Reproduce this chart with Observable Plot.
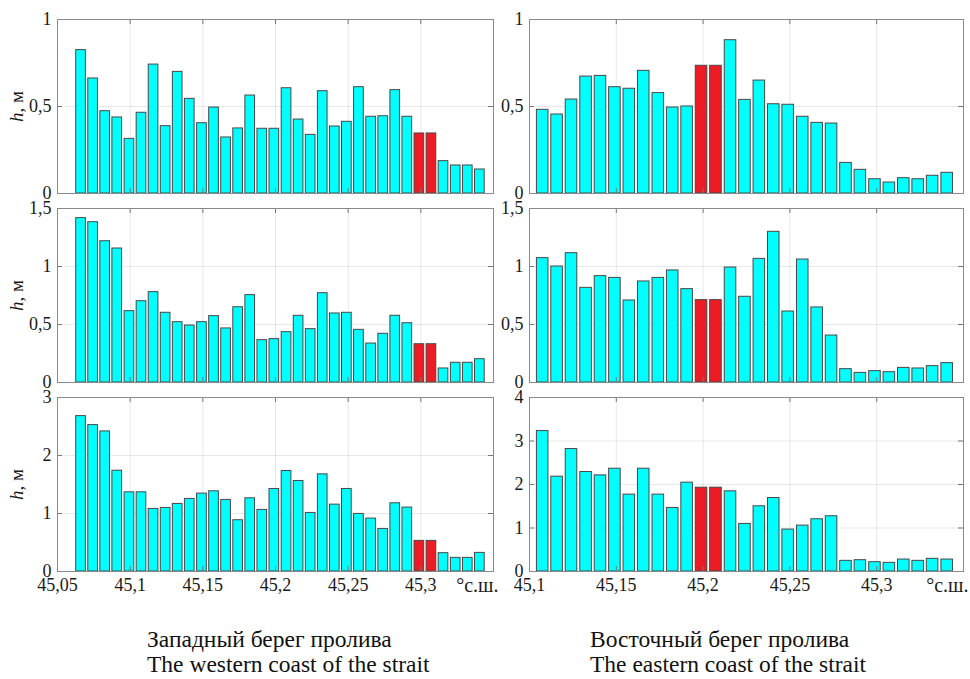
<!DOCTYPE html>
<html>
<head>
<meta charset="utf-8">
<script src="https://cdn.jsdelivr.net/npm/d3@7"></script>
<script src="https://cdn.jsdelivr.net/npm/@observablehq/plot@0.6"></script>
<style>
  body { margin: 0; background: #fff; }
  #wrap { position: relative; width: 970px; height: 679px; overflow: hidden; font-family: "Liberation Serif", "Times New Roman", serif; }
  #wrap svg { position: absolute; overflow: visible; background: transparent; }
  .cap { position: absolute; font-family: "Liberation Serif", "Times New Roman", serif; font-size: 23.5px; line-height: 25px; color: #111; white-space: nowrap; }
</style>
</head>
<body>
<div id="wrap"></div>
<script>
// ---- data ----
// latitudes of the profile points, western coast (°N)
const latWest = [45.0662, 45.0745, 45.0828, 45.0911, 45.0995, 45.1078, 45.1161, 45.1244, 45.1327, 45.1410,
  45.1494, 45.1577, 45.1660, 45.1743, 45.1826, 45.1909, 45.1992, 45.2076, 45.2159, 45.2242,
  45.2325, 45.2408, 45.2491, 45.2574, 45.2658, 45.2741, 45.2824, 45.2907, 45.2990, 45.3073,
  45.3156, 45.3240, 45.3323, 45.3406];
// latitudes of the profile points, eastern coast (°N)
const latEast = [45.1076, 45.1159, 45.1242, 45.1326, 45.1409, 45.1492, 45.1575, 45.1658, 45.1742, 45.1825,
  45.1908, 45.1991, 45.2074, 45.2158, 45.2241, 45.2324, 45.2407, 45.2490, 45.2574, 45.2657,
  45.2740, 45.2823, 45.2906, 45.2990, 45.3073, 45.3156, 45.3239, 45.3322, 45.3406];
const latStep = 0.00832;

// wave heights h, m — western coast (rows: top, middle, bottom)
const hWest1 = [0.824, 0.661, 0.473, 0.437, 0.314, 0.464, 0.741, 0.387, 0.699, 0.544,
  0.404, 0.494, 0.322, 0.374, 0.563, 0.372, 0.372, 0.605, 0.425, 0.337,
  0.588, 0.385, 0.412, 0.611, 0.441, 0.444, 0.594, 0.441, 0.345, 0.345,
  0.186, 0.161, 0.161, 0.138];
const hWest2 = [1.417, 1.382, 1.218, 1.155, 0.615, 0.701, 0.779, 0.601, 0.520, 0.491,
  0.520, 0.572, 0.466, 0.649, 0.753, 0.365, 0.374, 0.434, 0.575, 0.460,
  0.770, 0.595, 0.601, 0.454, 0.336, 0.420, 0.575, 0.511, 0.330, 0.330,
  0.121, 0.170, 0.170, 0.201];
const hWest3 = [2.679, 2.524, 2.415, 1.738, 1.365, 1.365, 1.079, 1.096, 1.165, 1.251,
  1.343, 1.383, 1.234, 0.884, 1.262, 1.062, 1.423, 1.733, 1.561, 1.010,
  1.675, 1.153, 1.423, 0.993, 0.912, 0.734, 1.176, 1.102, 0.528, 0.528,
  0.316, 0.235, 0.235, 0.321];
// wave heights h, m — eastern coast
const hEast1 = [0.481, 0.454, 0.540, 0.672, 0.676, 0.611, 0.602, 0.705, 0.577, 0.494,
  0.500, 0.734, 0.734, 0.881, 0.538, 0.649, 0.513, 0.510, 0.441, 0.406,
  0.402, 0.176, 0.136, 0.082, 0.063, 0.088, 0.082, 0.102, 0.119];
const hEast2 = [1.072, 1.000, 1.115, 0.816, 0.917, 0.902, 0.707, 0.871, 0.902, 0.966,
  0.805, 0.710, 0.710, 0.991, 0.739, 1.066, 1.299, 0.612, 1.060, 0.647,
  0.405, 0.115, 0.083, 0.098, 0.089, 0.126, 0.121, 0.141, 0.167];
const hEast3 = [3.228, 2.180, 2.815, 2.287, 2.210, 2.363, 1.767, 2.363, 1.767, 1.461,
  2.042, 1.927, 1.927, 1.843, 1.094, 1.499, 1.690, 0.964, 1.055, 1.201,
  1.270, 0.245, 0.260, 0.214, 0.199, 0.275, 0.245, 0.291, 0.275];

// highlighted (red) points
const redWest = [45.2990, 45.3073];
const redEast = [45.1991, 45.2074];

// axes
const xDomainWest = [45.05, 45.35];
const xDomainEast = [45.1, 45.35];
const xTicksWest = [45.05, 45.1, 45.15, 45.2, 45.25, 45.3];
const xTicksEast = [45.1, 45.15, 45.2, 45.25, 45.3];
const yTicks1 = [0, 0.5, 1];
const yTicks2 = [0, 0.5, 1, 1.5];
const yTicks3West = [0, 1, 2, 3];
const yTicks3East = [0, 1, 2, 3, 4];
const yLabel = "h, м";
const xUnit = "°с.ш.";
const captionWest = ["Западный берег пролива", "The western coast of the strait"];
const captionEast = ["Восточный берег пролива", "The eastern coast of the strait"];

// ---- drawing ----
const fmt = d => String(d).replace(".", ",");
const FONT = '"Liberation Serif", "Times New Roman", serif';
const wrap = document.getElementById("wrap");
const FRAME_H = 174;

function panel({lat, h, red, xDomain, xTicks, yDomain, yTicks, showX, showLabel, left, width, marginLeft, marginRight, frameTop, marginBottom}) {
  const marginTop = 12;
  const height = FRAME_H + marginTop + marginBottom;
  const frameW = width - marginLeft - marginRight;
  const rows = lat.map((x, i) => ({lat: x, h: h[i], red: red.includes(x)}));
  const rectOpts = {
    x1: d => d.lat - latStep * 0.4,
    x2: d => d.lat + latStep * 0.4,
    y1: 0,
    y2: "h",
    stroke: "#474747",
    strokeWidth: 1
  };
  const gridTicksX = xTicks.filter(t => t > xDomain[0] + 1e-9);
  const gridTicksY = yTicks.filter(t => t > yDomain[0] && t < yDomain[1]);
  const marks = [
    Plot.gridX(gridTicksX, {stroke: "#000", strokeOpacity: 0.09, strokeWidth: 1}),
    Plot.gridY(gridTicksY, {stroke: "#000", strokeOpacity: 0.09, strokeWidth: 1}),
    Plot.rectY(rows.filter(d => !d.red), {...rectOpts, fill: "#00ffff"}),
    Plot.rectY(rows.filter(d => d.red), {...rectOpts, fill: "#ed1c24"}),
    // inward tick marks on all four sides
    Plot.tickX(gridTicksX, {x: d => d, insetBottom: FRAME_H - 5, stroke: "#777"}),
    Plot.tickX(gridTicksX, {x: d => d, insetTop: FRAME_H - 5, stroke: "#777"}),
    Plot.tickY(gridTicksY, {y: d => d, insetRight: frameW - 5, stroke: "#777"}),
    Plot.tickY(gridTicksY, {y: d => d, insetLeft: frameW - 5, stroke: "#777"}),
    Plot.frame({stroke: "#8a8a8a", strokeWidth: 1}),
    Plot.axisY(yTicks, {
      anchor: "left", tickSize: 0, tickPadding: 6, tickFormat: fmt,
      fontSize: 18, fill: "#1a1a1a",
      label: showLabel ? yLabel : null, labelAnchor: "center", labelOffset: 48, labelArrow: "none"
    })
  ];
  if (showX) {
    marks.push(Plot.axisX(xTicks, {anchor: "bottom", tickSize: 0, tickPadding: 7, tickFormat: fmt, fontSize: 18, fill: "#1a1a1a", label: null}));
    marks.push(Plot.text([xUnit], {text: d => d, frameAnchor: "bottom-right", textAnchor: "end", lineAnchor: "top", dx: 5, dy: 6, fontSize: 20, fill: "#1a1a1a"}));
  } else {
    marks.push(Plot.axisX({ticks: [], label: null}));
  }
  const svg = Plot.plot({
    width, height,
    marginLeft, marginRight, marginTop, marginBottom,
    x: {domain: xDomain, label: null},
    y: {domain: yDomain, label: null},
    style: {fontFamily: FONT, fontSize: "18px", background: "transparent", overflow: "visible", color: "#1a1a1a"},
    marks
  });
  svg.style.left = left + "px";
  svg.style.top = (frameTop - marginTop) + "px";
  if (showLabel) {
    const t = svg.querySelector('[aria-label="y-axis label"] text');
    if (t) {
      t.textContent = "";
      const ns = "http://www.w3.org/2000/svg";
      const ts = document.createElementNS(ns, "tspan");
      ts.setAttribute("font-style", "italic");
      ts.textContent = yLabel.slice(0, 1);
      t.appendChild(ts);
      t.appendChild(document.createTextNode(yLabel.slice(1)));
      t.setAttribute("font-size", "19");
    }
  }
  wrap.appendChild(svg);
}

const W = {left: 0, width: 500, marginLeft: 57, marginRight: 7, lat: latWest, red: redWest, xDomain: xDomainWest, xTicks: xTicksWest, showLabel: true};
const E = {left: 480, width: 490, marginLeft: 49, marginRight: 7, lat: latEast, red: redEast, xDomain: xDomainEast, xTicks: xTicksEast, showLabel: false};
const rowTops = [19, 208, 397];

panel({...W, h: hWest1, yDomain: [0, 1], yTicks: yTicks1, frameTop: rowTops[0], marginBottom: 12, showX: false});
panel({...W, h: hWest2, yDomain: [0, 1.5], yTicks: yTicks2, frameTop: rowTops[1], marginBottom: 12, showX: false});
panel({...W, h: hWest3, yDomain: [0, 3], yTicks: yTicks3West, frameTop: rowTops[2], marginBottom: 36, showX: true});
panel({...E, h: hEast1, yDomain: [0, 1], yTicks: yTicks1, frameTop: rowTops[0], marginBottom: 12, showX: false});
panel({...E, h: hEast2, yDomain: [0, 1.5], yTicks: yTicks2, frameTop: rowTops[1], marginBottom: 12, showX: false});
panel({...E, h: hEast3, yDomain: [0, 4], yTicks: yTicks3East, frameTop: rowTops[2], marginBottom: 36, showX: true});

function caption(lines, left) {
  const d = document.createElement("div");
  d.className = "cap";
  d.style.left = left + "px";
  d.style.top = "627px";
  lines.forEach((l, i) => {
    if (i) d.appendChild(document.createElement("br"));
    d.appendChild(document.createTextNode(l));
  });
  wrap.appendChild(d);
}
caption(captionWest, 147);
caption(captionEast, 590);
</script>
</body>
</html>
